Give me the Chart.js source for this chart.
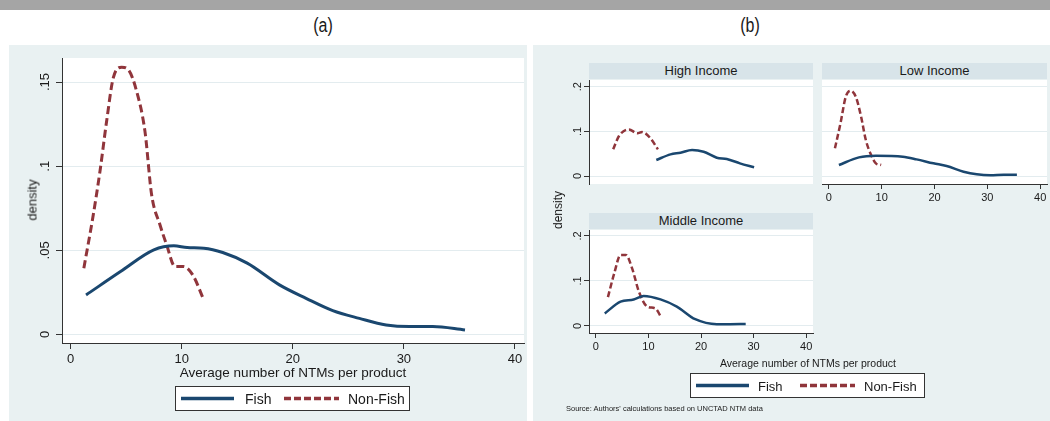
<!DOCTYPE html>
<html>
<head>
<meta charset="utf-8">
<script src="https://cdn.jsdelivr.net/npm/chart.js@4.4.1/dist/chart.umd.min.js"></script>
<style>
  body { margin: 0; width: 1050px; height: 421px; position: relative; overflow: hidden; background: #fff;
         font-family: "Liberation Sans", Arial, sans-serif; color: #1a1a1a; }
  .abs { position: absolute; }
  .c { position: absolute; transform: translate(-50%, -50%); white-space: nowrap; }
  .rot { position: absolute; transform: translate(-50%, -50%) rotate(-90deg); white-space: nowrap; }
  .bg { position: absolute; background: #e9f1f2; }
  .strip { position: absolute; background: #d8e4e9; text-align: center; font-size: 13px; line-height: 16px; }
  .legend { position: absolute; background: #fff; border: 1px solid #333; box-sizing: border-box; }
  .legend span { position: absolute; top: 50%; transform: translateY(-50%); white-space: nowrap; }
  .legend svg { position: absolute; top: 0; }
  canvas { position: absolute; }
  .panelTag { font-size: 20px; transform: translate(-50%, -50%) scaleX(0.8); }
</style>
</head>
<body>

<div class="abs" style="left:0;top:0;width:1050px;height:10px;background:#a5a5a5"></div>
<div class="c panelTag" style="left:323px;top:25px">(a)</div>
<div class="c panelTag" style="left:750px;top:25px">(b)</div>

<!-- (a) all products -->
<div class="bg" style="left:9px;top:45px;width:518px;height:376px"></div>
<canvas id="chartA" width="517" height="335" style="left:10px;top:45px;width:517px;height:335px"></canvas>
<div class="rot" style="left:32px;top:200px;font-size:13px">density</div>
<div class="c" style="left:293px;top:372px;font-size:13.5px">Average number of NTMs per product</div>
<div class="legend" style="left:175px;top:386px;width:235px;height:25px">
  <svg style="left:4px" width="56" height="23"><line x1="1" y1="11.5" x2="54" y2="11.5" stroke="#1a476f" stroke-width="3.5"/></svg>
  <span style="left:69px;font-size:14px">Fish</span>
  <svg style="left:107px" width="58" height="23"><line x1="1" y1="11.5" x2="56" y2="11.5" stroke="#90353b" stroke-width="3.5" stroke-dasharray="7,3"/></svg>
  <span style="left:172px;font-size:14px">Non-Fish</span>
</div>

<!-- (b) by income group -->
<div class="bg" style="left:533px;top:45px;width:517px;height:376px"></div>
<div class="strip" style="left:589px;top:63px;width:224px;height:16px">High Income</div>
<div class="strip" style="left:822px;top:63px;width:225px;height:16px">Low Income</div>
<div class="strip" style="left:589px;top:213px;width:224px;height:16px">Middle Income</div>
<canvas id="chartHigh" width="280" height="120" style="left:540px;top:70px;width:280px;height:120px"></canvas>
<canvas id="chartLow" width="235" height="145" style="left:815px;top:70px;width:235px;height:145px"></canvas>
<canvas id="chartMid" width="280" height="145" style="left:540px;top:220px;width:280px;height:145px"></canvas>
<div class="rot" style="left:558px;top:210px;font-size:12px">density</div>
<div class="c" style="left:808px;top:363px;font-size:10.5px">Average number of NTMs per product</div>
<div class="legend" style="left:690px;top:373px;width:235px;height:25px">
  <svg style="left:4px" width="56" height="23"><line x1="1" y1="11.5" x2="54" y2="11.5" stroke="#1a476f" stroke-width="3.5"/></svg>
  <span style="left:67px;font-size:13px">Fish</span>
  <svg style="left:108px" width="58" height="23"><line x1="1" y1="11.5" x2="56" y2="11.5" stroke="#90353b" stroke-width="3.5" stroke-dasharray="7,3"/></svg>
  <span style="left:173px;font-size:13px">Non-Fish</span>
</div>
<div class="abs" style="left:566px;top:404px;font-size:7.5px;white-space:nowrap">Source: Authors' calculations based on UNCTAD NTM data</div>

<script>
// kernel density estimates of the average number of NTMs per product
const allFishX = [1.4, 4.5, 7.5, 9.3, 10.5, 12.0, 13.7, 15.9, 18.8, 21.2, 23.6, 26.0, 28.4, 30.5, 32.6, 35.5];
const allFishY = [0.0235, 0.0374, 0.0503, 0.0527, 0.0517, 0.0513, 0.0487, 0.0424, 0.0295, 0.0215, 0.0142, 0.0096, 0.0057, 0.0047, 0.0047, 0.0027];
const allNonFishX = [1.2, 2.05, 2.65, 3.25, 3.85, 4.6, 5.2, 5.95, 6.7, 7.3, 8.05, 8.65, 9.4, 10.15, 11.0, 12.0];
const allNonFishY = [0.0394, 0.0711, 0.0969, 0.1267, 0.1525, 0.1588, 0.1574, 0.1445, 0.1207, 0.083, 0.0652, 0.0533, 0.0404, 0.0404, 0.0354, 0.0205];

const highFishX = [11.5, 14.2, 16.1, 18.3, 20.5, 23.0, 24.9, 27.4, 30.1];
const highFishY = [0.0358, 0.0485, 0.0522, 0.0582, 0.0544, 0.041, 0.038, 0.0284, 0.0195];
const highNonFishX = [3.3, 4.4, 6.3, 7.9, 8.8, 10.4, 11.8];
const highNonFishY = [0.0597, 0.0895, 0.1044, 0.0955, 0.0984, 0.0843, 0.0597];

const lowFishX = [1.9, 5.7, 8.9, 14.0, 16.6, 19.8, 22.3, 25.5, 28.0, 30.6, 33.1, 35.6];
const lowFishY = [0.0246, 0.0418, 0.0454, 0.0432, 0.0373, 0.0284, 0.0224, 0.0097, 0.0037, 0.0015, 0.003, 0.003];
const lowNonFishX = [1.15, 2.2, 3.2, 4.1, 5.1, 6.1, 7.0, 8.0, 8.9, 9.9];
const lowNonFishY = [0.062, 0.118, 0.1775, 0.191, 0.1775, 0.133, 0.0805, 0.047, 0.0284, 0.0246];

const midFishX = [1.7, 4.7, 7.2, 9.1, 12.3, 15.4, 18.9, 23.0, 25.5, 28.5];
const midFishY = [0.028, 0.054, 0.059, 0.0667, 0.059, 0.043, 0.015, 0.004, 0.004, 0.0045];
const midNonFishX = [2.3, 3.5, 4.7, 5.7, 6.9, 8.2, 9.8, 11.3, 12.5];
const midNonFishY = [0.064, 0.117, 0.158, 0.158, 0.128, 0.076, 0.043, 0.039, 0.018];

const xTicks = [0, 10, 20, 30, 40];
const yTicksA = [0, 0.05, 0.1, 0.15];
const yLabelsA = ['0', '.05', '.1', '.15'];
const yTicksB = [0, 0.1, 0.2];
const yLabelsB = ['0', '.1', '.2'];

const FISH = '#1a476f';
const NONFISH = '#90353b';
const AXIS = '#333333';
const GRID = '#e3ecef';
const FONT = '"Liberation Sans", Arial, sans-serif';

function pts(xs, ys) {
  return xs.map((x, i) => ({ x: x, y: ys[i] }));
}

// white plot region behind grid and lines
const plotBg = {
  id: 'plotBg',
  beforeDraw(chart) {
    const a = chart.chartArea;
    chart.ctx.save();
    chart.ctx.fillStyle = '#ffffff';
    chart.ctx.fillRect(a.left, a.top, a.right - a.left, a.bottom - a.top);
    chart.ctx.restore();
  }
};

// vertical tick labels on the y axis, reading bottom to top
const yLabelPlugin = {
  id: 'yLabels',
  afterDraw(chart, args, opts) {
    if (!opts.labels) return;
    const ctx = chart.ctx;
    const y = chart.scales.y;
    ctx.save();
    ctx.font = opts.size + 'px ' + FONT;
    ctx.fillStyle = '#1a1a1a';
    ctx.textAlign = 'center';
    ctx.textBaseline = 'middle';
    opts.values.forEach((v, i) => {
      ctx.save();
      ctx.translate(chart.chartArea.left - opts.offset, y.getPixelForValue(v));
      ctx.rotate(-Math.PI / 2);
      ctx.fillText(opts.labels[i], 0, 0);
      ctx.restore();
    });
    ctx.restore();
  }
};

function densityChart(id, s) {
  return new Chart(document.getElementById(id), {
    type: 'line',
    data: {
      datasets: [
        { label: 'Fish', data: s.fish, borderColor: FISH, borderWidth: s.lw,
          pointRadius: 0, cubicInterpolationMode: 'monotone' },
        { label: 'Non-Fish', data: s.nonFish, borderColor: NONFISH, borderWidth: s.lw,
          borderDash: s.dash, pointRadius: 0, cubicInterpolationMode: 'monotone' },
      ],
    },
    options: {
      responsive: false,
      animation: false,
      layout: { padding: s.pad, autoPadding: false },
      plugins: {
        legend: { display: false },
        tooltip: { enabled: false },
        yLabels: s.yLabels ? { values: s.yTicks, labels: s.yLabels, size: s.tickFont, offset: s.yLabelOffset } : {},
      },
      scales: {
        x: {
          type: 'linear',
          display: s.showX,
          min: s.xMin,
          max: s.xMax,
          afterBuildTicks: (sc) => { sc.ticks = xTicks.map((v) => ({ value: v })); },
          afterFit: (sc) => { sc.height = s.showX ? s.xHeight : 0; },
          grid: { drawOnChartArea: false, drawTicks: true, tickLength: s.tickLen, tickColor: AXIS },
          border: { display: true, color: AXIS },
          ticks: { font: { size: s.tickFont, family: FONT }, color: '#1a1a1a', padding: s.tickPad,
                   maxRotation: 0, minRotation: 0, autoSkip: false },
        },
        y: {
          type: 'linear',
          min: s.yMin,
          max: s.yMax,
          afterBuildTicks: (sc) => { sc.ticks = s.yTicks.map((v) => ({ value: v })); },
          afterFit: (sc) => { sc.width = s.yWidth; },
          grid: { color: GRID, lineWidth: 1, drawTicks: s.showY, tickLength: s.tickLen, tickColor: AXIS },
          border: { display: s.showY, color: AXIS },
          ticks: { display: false },
        },
      },
    },
    plugins: [plotBg, yLabelPlugin],
  });
}

densityChart('chartA', {
  fish: pts(allFishX, allFishY),
  nonFish: pts(allNonFishX, allNonFishY),
  lw: 3, dash: [8, 4],
  xMin: -0.765, xMax: 40.81, yMin: -0.00505, yMax: 0.1643,
  yTicks: yTicksA, yLabels: yLabelsA, yLabelOffset: 17,
  showX: true, showY: true,
  pad: { top: 13, right: 3, left: 0, bottom: 0 },
  yWidth: 52, xHeight: 37, tickLen: 6, tickFont: 13, tickPad: 3,
});

densityChart('chartHigh', {
  fish: pts(highFishX, highFishY),
  nonFish: pts(highNonFishX, highNonFishY),
  lw: 2.5, dash: [6, 3],
  xMin: -1.3, xMax: 41.3, yMin: -0.0179, yMax: 0.215,
  yTicks: yTicksB, yLabels: yLabelsB, yLabelOffset: 11,
  showX: false, showY: true,
  pad: { top: 10, right: 7, left: 0, bottom: 6 },
  yWidth: 49, xHeight: 0, tickLen: 5, tickFont: 11, tickPad: 2,
});

densityChart('chartLow', {
  fish: pts(lowFishX, lowFishY),
  nonFish: pts(lowNonFishX, lowNonFishY),
  lw: 2.5, dash: [6, 3],
  xMin: -1.3, xMax: 41.3, yMin: -0.0179, yMax: 0.215,
  yTicks: yTicksB, yLabels: null, yLabelOffset: 0,
  showX: true, showY: false,
  pad: { top: 10, right: 3, left: 7, bottom: 0 },
  yWidth: 0, xHeight: 31, tickLen: 5, tickFont: 11, tickPad: 2,
});

densityChart('chartMid', {
  fish: pts(midFishX, midFishY),
  nonFish: pts(midNonFishX, midNonFishY),
  lw: 2.5, dash: [6, 3],
  xMin: -1.3, xMax: 41.3, yMin: -0.0156, yMax: 0.2133,
  yTicks: yTicksB, yLabels: yLabelsB, yLabelOffset: 11,
  showX: true, showY: true,
  pad: { top: 10, right: 7, left: 0, bottom: 0 },
  yWidth: 49, xHeight: 32, tickLen: 5, tickFont: 11, tickPad: 2,
});
</script>
</body>
</html>
